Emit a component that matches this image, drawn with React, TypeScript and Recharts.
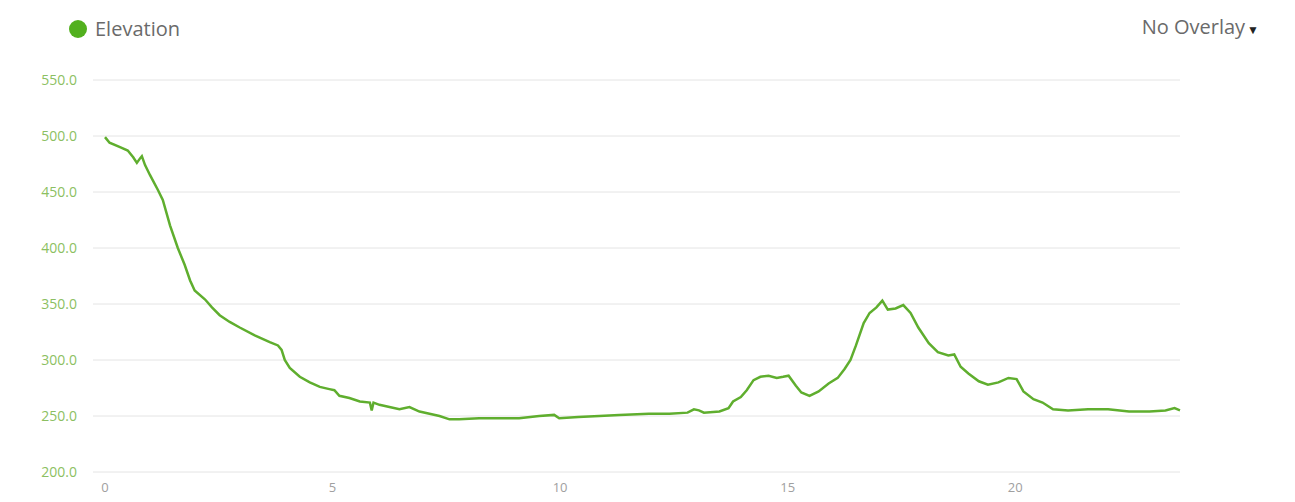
import { CartesianGrid, Line, LineChart, XAxis, YAxis } from "recharts"

// distance (km) and elevation (m)
const distance = [
  0, 0.1, 0.33, 0.5, 0.62, 0.7, 0.77, 0.81, 0.88, 0.99, 1.16, 1.27, 1.43, 1.6,
  1.75, 1.87, 1.97, 2.2, 2.35, 2.52, 2.74, 2.96, 3.29, 3.62, 3.8, 3.88, 3.95,
  4.06, 4.28, 4.5, 4.72, 4.93, 5.04, 5.15, 5.37, 5.6, 5.82, 5.86, 5.9, 6.03,
  6.25, 6.47, 6.69, 6.91, 7.13, 7.35, 7.57, 7.78, 8.22, 8.66, 9.1, 9.54, 9.87,
  9.98, 10.4, 10.86, 11.3, 11.95, 12.4, 12.8, 12.94, 13.05, 13.16, 13.5, 13.7,
  13.8, 13.97, 14.1, 14.25, 14.4, 14.58, 14.76, 14.9, 15.02, 15.18, 15.3,
  15.48, 15.68, 15.9, 16.1, 16.25, 16.38, 16.5, 16.67, 16.8, 16.95, 17.08,
  17.2, 17.37, 17.54, 17.7, 17.87, 18.1, 18.3, 18.53, 18.66, 18.8, 18.97,
  19.2, 19.4, 19.63, 19.85, 20.03, 20.18, 20.4, 20.6, 20.83, 21.16, 21.6,
  22.04, 22.5, 22.95, 23.3, 23.5, 23.62,
]
const elevation = [
  499, 494, 490, 487, 481, 476, 480, 482, 474, 465, 452, 443, 420, 400, 385,
  371, 362, 354, 347, 340, 334, 329, 322, 316, 313, 309, 300, 293, 285, 280,
  276, 274, 273, 268, 266, 263, 262, 255, 262, 260, 258, 256, 258, 254, 252,
  250, 247, 247, 248, 248, 248, 250, 251, 248, 249, 250, 251, 252, 252, 253,
  256, 255, 253, 254, 257, 263, 267, 273, 282, 285, 286, 284, 285, 286, 277,
  271, 268, 272, 279, 284, 292, 300, 313, 333, 342, 347, 353, 345, 346, 349,
  342, 329, 315, 307, 304, 305, 294, 288, 281, 278, 280, 284, 283, 272, 265,
  262, 256, 255, 256, 256, 254, 254, 255, 257, 255,
]
const xTicks = [0, 5, 10, 15, 20]
const yTicks = [200, 250, 300, 350, 400, 450, 500, 550]

const data = distance.map((d, i) => ({ distance: d, elevation: elevation[i] }))

const GREEN = "#5fae2e"
const FONT = "'Open Sans', sans-serif"

export default function App() {
  return (
    <div
      style={{
        position: "absolute",
        left: 0,
        top: 0,
        width: 1295,
        height: 502,
        background: "#fff",
        fontFamily: FONT,
      }}
    >
      <div
        style={{
          position: "absolute",
          left: 69,
          top: 15,
          display: "flex",
          alignItems: "center",
          fontSize: 20,
          color: "#6a6a6a",
        }}
      >
        <span
          style={{
            display: "inline-block",
            width: 18,
            height: 18,
            borderRadius: 9,
            background: "#52b01e",
            marginRight: 8,
          }}
        />
        Elevation
      </div>
      <div
        style={{
          position: "absolute",
          right: 36,
          top: 13,
          fontSize: 20,
          color: "#6a6a6a",
        }}
      >
        No Overlay<span style={{ fontSize: 12, color: "#222", marginLeft: 2 }}>▼</span>
      </div>
      <LineChart
        width={1295}
        height={502}
        data={data}
        margin={{ top: 80, right: 115, left: 0, bottom: 0 }}
      >
        <CartesianGrid vertical={false} stroke="#e4e4e4" strokeWidth={1} />
        <XAxis
          dataKey="distance"
          type="number"
          domain={[0, "dataMax"]}
          ticks={xTicks}
          padding={{ left: 12, right: 0 }}
          axisLine={false}
          tickLine={false}
          tickMargin={5}
          height={30}
          tick={{ fontSize: 13, fill: "#a0a0a0", fontFamily: FONT }}
        />
        <YAxis
          type="number"
          domain={[200, 550]}
          ticks={yTicks}
          width={93}
          axisLine={false}
          tickLine={false}
          tickMargin={10}
          tickFormatter={(v: number) => v.toFixed(1)}
          tick={{ fontSize: 14, fill: "#8cbf62", fontFamily: FONT }}
        />
        <Line
          type="linear"
          dataKey="elevation"
          stroke={GREEN}
          strokeWidth={2.5}
          dot={false}
          isAnimationActive={false}
        />
      </LineChart>
    </div>
  )
}
